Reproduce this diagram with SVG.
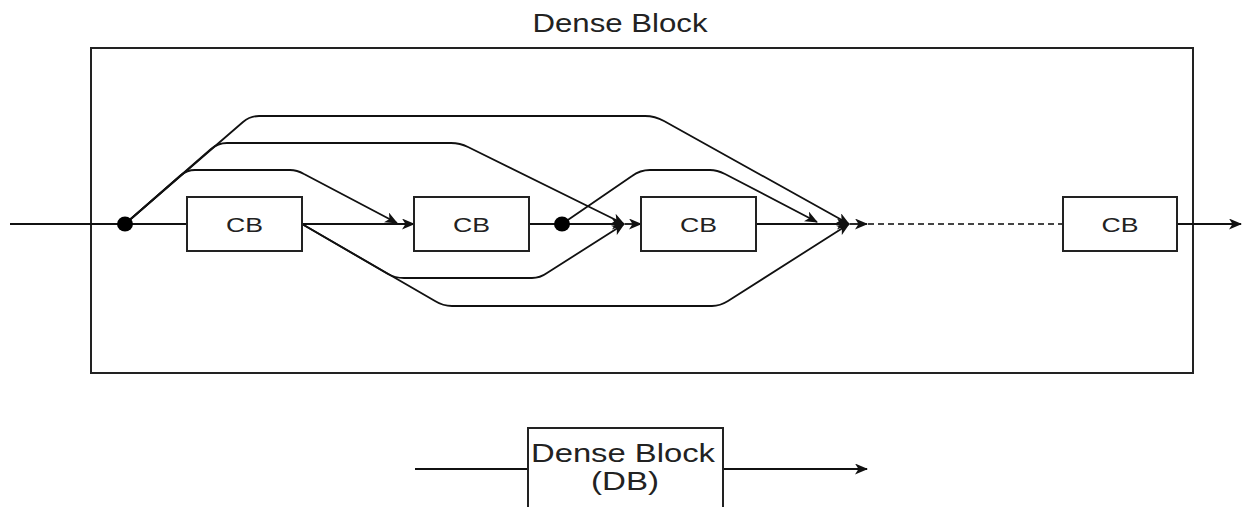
<svg xmlns="http://www.w3.org/2000/svg" width="1246" height="507" viewBox="0 0 1246 507">
<defs>
<style>
.ln{fill:none;stroke:#111;stroke-width:1.8}
.dash{fill:none;stroke:#444;stroke-width:1.8;stroke-dasharray:6 4}
.box{fill:#fff;stroke:#222;stroke-width:2}
.t{font-family:"Liberation Sans",Arial,sans-serif;fill:#222;text-anchor:middle}
</style>
<marker id="arr" viewBox="0 0 13 11" refX="12" refY="5.5" markerWidth="13" markerHeight="11" markerUnits="userSpaceOnUse" orient="auto">
<path d="M0,0 L13,5.5 L0,11 L3.5,5.5 Z" fill="#111"/>
</marker>
</defs>
<rect width="1246" height="507" fill="#fff"/>
<text class="t" x="620" y="32" font-size="25" textLength="175" lengthAdjust="spacingAndGlyphs">Dense Block</text>
<g id="outer"><rect class="box" x="91" y="48" width="1102" height="325"/></g>
<g id="connectors">
<path class="ln" d="M10,224 L125,224"/>
<path class="ln" d="M125,224 L187,224"/>
<path class="ln" d="M125,224 L243,122 Q250,116 259,116 L645,116 Q655,116 664,121 L849,224" marker-end="url(#arr)"/>
<path class="ln" d="M125,224 L211,149 Q218,143 227,143 L451,143 Q460,143 468,147 L624,224" marker-end="url(#arr)"/>
<path class="ln" d="M125,224 L181,175 Q187,170 195,170 L290,170 Q297,170 304,174 L397,223" marker-end="url(#arr)"/>
<path class="ln" d="M302,224 L414,224" marker-end="url(#arr)"/>
<path class="ln" d="M302,224 L388,274 Q395,278 404,278 L532,278 Q540,278 547,273 L624,224" marker-end="url(#arr)"/>
<path class="ln" d="M302,224 L435,301 Q443,306 452,306 L712,306 Q720,306 728,301 L849,224" marker-end="url(#arr)"/>
<path class="ln" d="M529,224 L562,224"/>
<path class="ln" d="M562,224 L624,224" marker-end="url(#arr)"/>
<path class="ln" d="M562,224 L632,176 Q640,170 650,170 L710,170 Q717,170 725,174 L817,222" marker-end="url(#arr)"/>
<path class="ln" d="M625,224 L641,224" marker-end="url(#arr)"/>
<path class="ln" d="M756,224 L849,224" marker-end="url(#arr)"/>
<path class="ln" d="M850,224 L867,224" marker-end="url(#arr)"/>
<path class="dash" d="M868,224 L1063,224"/>
<path class="ln" d="M1177,224 L1241,224" marker-end="url(#arr)"/>
<path class="ln" d="M415,469 L528,469"/>
<path class="ln" d="M723,469 L867,469" marker-end="url(#arr)"/>
</g>
<g id="dot1"><ellipse cx="125" cy="224" rx="8" ry="7.5" fill="#000"/></g>
<g id="dot2"><ellipse cx="562" cy="224" rx="8" ry="7.5" fill="#000"/></g>
<g id="cb1"><rect class="box" x="187" y="197" width="115" height="54"/><text class="t" x="244.5" y="232" font-size="21" textLength="37" lengthAdjust="spacingAndGlyphs">CB</text></g>
<g id="cb2"><rect class="box" x="414" y="197" width="115" height="54"/><text class="t" x="471.5" y="232" font-size="21" textLength="37" lengthAdjust="spacingAndGlyphs">CB</text></g>
<g id="cb3"><rect class="box" x="641" y="197" width="115" height="54"/><text class="t" x="698.5" y="232" font-size="21" textLength="37" lengthAdjust="spacingAndGlyphs">CB</text></g>
<g id="cb4"><rect class="box" x="1063" y="197" width="114" height="54"/><text class="t" x="1120" y="232" font-size="21" textLength="37" lengthAdjust="spacingAndGlyphs">CB</text></g>
<g id="db"><rect class="box" x="528" y="428" width="195" height="100"/>
<text class="t" x="623" y="462" font-size="26" textLength="184" lengthAdjust="spacingAndGlyphs">Dense Block</text>
<text class="t" x="625" y="490" font-size="26" textLength="68" lengthAdjust="spacingAndGlyphs">(DB)</text></g>
</svg>
